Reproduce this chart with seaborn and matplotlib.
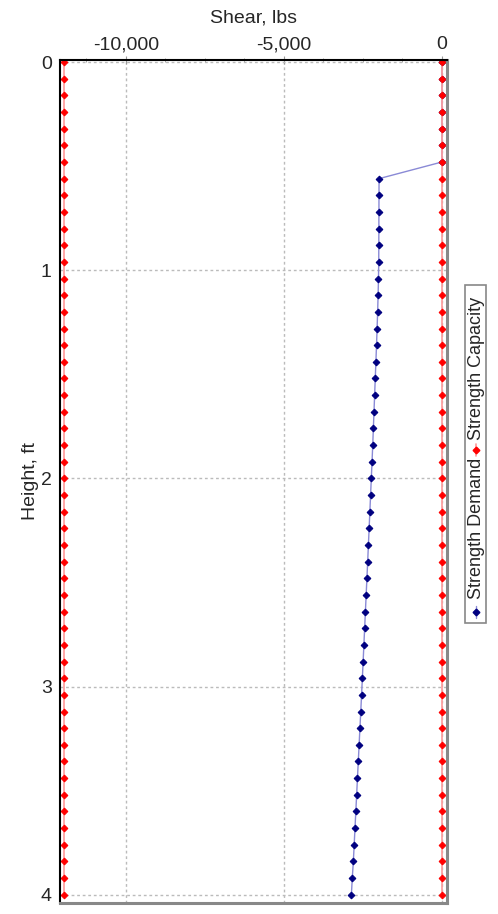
import matplotlib
matplotlib.use("Agg")
import matplotlib.pyplot as plt
from matplotlib.lines import Line2D
from matplotlib.patches import Rectangle
from matplotlib.ticker import FuncFormatter, MultipleLocator
import seaborn as sns
import pandas as pd

sns.set_style("white")
plt.rcParams['font.family'] = ['Liberation Sans', 'DejaVu Sans']

# heights of the calculation points, ft
heights = [0.00, 0.08, 0.16, 0.24, 0.32, 0.40, 0.48, 0.56, 0.64, 0.72,
           0.80, 0.88, 0.96, 1.04, 1.12, 1.20, 1.28, 1.36, 1.44, 1.52,
           1.60, 1.68, 1.76, 1.84, 1.92, 2.00, 2.08, 2.16, 2.24, 2.32,
           2.40, 2.48, 2.56, 2.64, 2.72, 2.80, 2.88, 2.96, 3.04, 3.12,
           3.20, 3.28, 3.36, 3.44, 3.52, 3.60, 3.68, 3.76, 3.84, 3.92,
           4.00]
# shear demand, lbs
demand = [0, 0, 0, 0, 0, 0, 0, -1990, -1992, -1994,
          -1996, -1998, -2000, -2008, -2020, -2035, -2052, -2070, -2090, -2110,
          -2130, -2150, -2170, -2190, -2212, -2235, -2258, -2281, -2304, -2327,
          -2350, -2374, -2398, -2422, -2446, -2470, -2494, -2518, -2543, -2569,
          -2595, -2621, -2647, -2673, -2699, -2725, -2751, -2777, -2803, -2837,
          -2865]
# shear capacity, lbs (lower and upper bound)
capacity_low = [-11960] * len(heights)
capacity_high = [0] * len(heights)

df = pd.DataFrame({"height": heights, "demand": demand,
                   "cap_low": capacity_low, "cap_high": capacity_high})

fig = plt.figure(figsize=(4.98, 9.14), dpi=100)
ax = fig.add_axes([60 / 498, 11 / 914, 387 / 498, 843 / 914])

demand_style = dict(color="#8a8ad6", lw=1.0, marker="D", markersize=3.4,
                    markerfacecolor="#000080", markeredgecolor="#000080")
cap_style = dict(color="#ff9a9a", lw=1.2, marker="D", markersize=3.4,
                 markerfacecolor="#ff0000", markeredgecolor="#ff0000")

sns.lineplot(data=df, x="demand", y="height", sort=False, orient="y", ax=ax,
             **demand_style)
sns.lineplot(data=df, x="cap_low", y="height", sort=False, orient="y", ax=ax,
             **cap_style)
sns.lineplot(data=df, x="cap_high", y="height", sort=False, orient="y", ax=ax,
             **cap_style)

ax.set_xlim(-12085, 160)
ax.set_ylim(4.04, -0.01)
ax.xaxis.tick_top()
ax.xaxis.set_label_position("top")
ax.set_xticks([-10000, -5000, 0])
ax.xaxis.set_minor_locator(MultipleLocator(1250))
ax.xaxis.set_major_formatter(FuncFormatter(lambda v, p: f"{int(v):,}"))
ax.set_yticks([0, 1, 2, 3, 4])
ax.yaxis.set_minor_locator(MultipleLocator(0.25))
ax.tick_params(axis="both", which="major", labelsize=14, length=4,
               color="#999999", pad=2)
ax.tick_params(axis="x", which="major", direction="inout", length=6)
ax.tick_params(axis="both", which="minor", length=3, color="#999999",
               direction="inout")
ax.set_xlabel("Shear, lbs", fontsize=14, labelpad=10)
ax.set_ylabel("Height, ft", fontsize=14, labelpad=1)
ax.grid(True, which="major", color="#bbbbbb", ls=(0, (2, 2)), lw=1.0)

for side in ["left", "top"]:
    ax.spines[side].set_color("black")
    ax.spines[side].set_linewidth(1.5)
for side in ["right", "bottom"]:
    ax.spines[side].set_color("#888888")
    ax.spines[side].set_linewidth(2.2)

# vertical legend on the right
W, H = 498.0, 914.0
def fx(px):
    return px / W

def fy(py):
    return 1 - py / H

fig.add_artist(Rectangle((fx(465), fy(623)), fx(486) - fx(465), fy(285) - fy(623),
                         transform=fig.transFigure, facecolor="white",
                         edgecolor="#888888", lw=1.2))
xc = fx(476)
for py, style in [(612, demand_style), (450, cap_style)]:
    fig.add_artist(Line2D([xc, xc, xc], [fy(py + 6), fy(py), fy(py - 6)],
                          transform=fig.transFigure, markevery=[1], **style))
fig.text(xc, fy(528), "Strength Demand", rotation=90, ha="center", va="center",
         fontsize=13)
fig.text(xc, fy(368), "Strength Capacity", rotation=90, ha="center", va="center",
         fontsize=13)

fig.savefig("out.png", dpi=100)
